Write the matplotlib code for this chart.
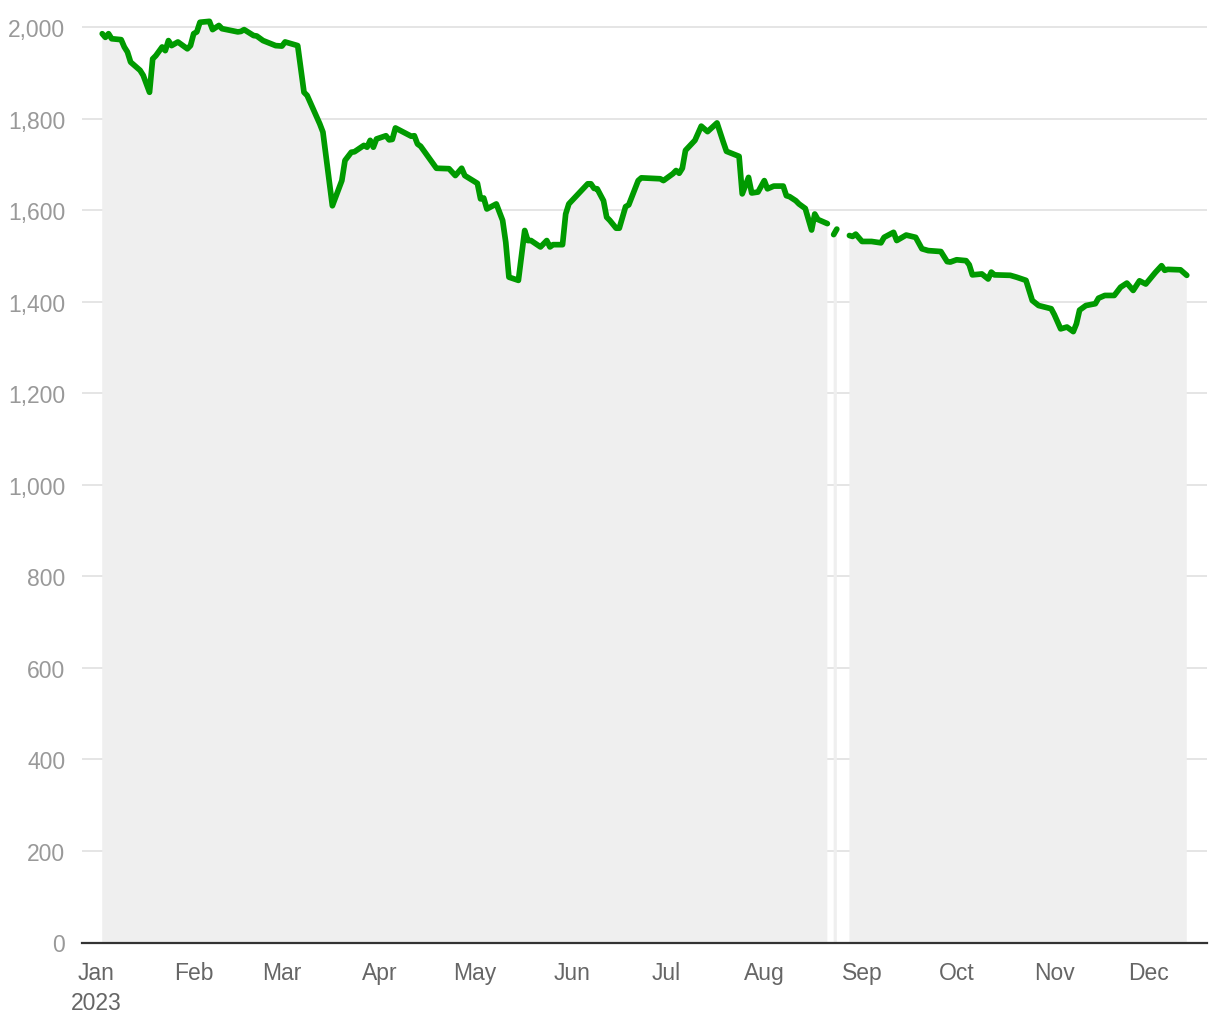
import numpy as np
import matplotlib
matplotlib.use("Agg")
import matplotlib.pyplot as plt
from matplotlib.ticker import FuncFormatter

plt.rcParams['font.family'] = ['Liberation Sans', 'DejaVu Sans']

# day offsets from 2023-01-01 and values; NaN marks missing data
days = [2, 3, 4, 5, 8, 9, 10, 11, 14, 15, 17, 18, 19, 21, 22, 23, 24, 26,
        29, 30, 31, 32, 33, 36, 37, 39, 40, 45, 46, 47, 50, 51, 53, 57, 59, 60,
        64, 66, 67, 71, 72, 75, 78, 79, 81, 82, 85, 86, 87, 88, 89, 92, 93, 94,
        95, 100, 101, 102, 103, 108, 112, 114, 116, 117, 121, 122, 123, 124,
        127, 129, 130, 131, 134, 136, 137, 138, 141, 143, 144, 145, 148, 149,
        150, 153, 156, 157, 158, 159, 161, 162, 163, 165, 166, 168, 169, 172,
        173, 179, 180, 183, 184, 185, 186, 187, 190, 192, 194, 197, 199, 200,
        204, 205, 207, 208, 210, 212, 213, 215, 218, 219, 220, 222, 223, 225,
        227, 228, 229, 232, 233, 234, 235, 237, 239, 240, 241, 243, 246, 249,
        250, 253, 254, 257, 260, 262, 264, 268, 270, 271, 273, 276, 277, 278,
        281, 283, 284, 285, 290, 292, 295, 297, 299, 303, 304, 306, 308, 310,
        311, 312, 314, 317, 318, 320, 323, 325, 327, 329, 331, 333, 336, 338,
        339, 340, 344, 346]
values = [1986, 1978, 1986, 1975, 1973, 1957, 1946, 1924, 1906, 1895, 1858,
          1931, 1938, 1957, 1949, 1971, 1960, 1968, 1953, 1960, 1986, 1990,
          2011, 2013, 1995, 2004, 1997, 1990, 1991, 1995, 1982, 1981, 1971,
          1960, 1959, 1968, 1960, 1858, 1851, 1789, 1771, 1610, 1665, 1709,
          1727, 1728, 1742, 1738, 1753, 1738, 1756, 1763, 1754, 1755, 1780,
          1762, 1763, 1745, 1740, 1692, 1691, 1676, 1692, 1676, 1659, 1625,
          1627, 1603, 1614, 1578, 1530, 1454, 1447, 1556, 1534, 1534, 1520,
          1534, 1520, 1525, 1525, 1592, 1614, 1636, 1658, 1658, 1648, 1647,
          1621, 1585, 1578, 1561, 1561, 1608, 1612, 1665, 1671, 1669, 1665,
          1680, 1687, 1681, 1692, 1731, 1753, 1784, 1772, 1791, 1749, 1729,
          1718, 1636, 1672, 1638, 1640, 1665, 1647, 1653, 1653, 1632, 1630,
          1621, 1614, 1604, 1557, 1592, 1580, 1571, np.nan, 1547, 1559, np.nan,
          1545, 1543, 1548, 1532, 1532, 1529, 1541, 1552, 1534, 1546, 1541,
          1516, 1512, 1510, 1488, 1487, 1492, 1490, 1481, 1459, 1461, 1450,
          1465, 1459, 1458, 1454, 1447, 1403, 1392, 1385, 1372, 1341, 1345,
          1335, 1352, 1382, 1392, 1396, 1408, 1414, 1414, 1432, 1441, 1425,
          1446, 1439, 1464, 1479, 1469, 1471, 1470, 1458]

y_ticks = [0, 200, 400, 600, 800, 1000, 1200, 1400, 1600, 1800, 2000]
month_labels = ['Jan\n2023', 'Feb', 'Mar', 'Apr', 'May', 'Jun', 'Jul', 'Aug',
                'Sep', 'Oct', 'Nov', 'Dec']

start = np.datetime64('2023-01-01')
dates = start + np.array(days).astype('timedelta64[D]')
vals = np.array(values, dtype=float)

fig = plt.figure(figsize=(12.2, 10.2), dpi=100)
ax = fig.add_axes([82 / 1220, 76.5 / 1020, 1125 / 1220, 933.5 / 1020])

# grey area under each stretch of data, green line on top
ax.fill_between(dates, 0, vals, where=~np.isnan(vals), color='#efefef',
                linewidth=0, zorder=1)
ax.plot(dates, vals, color='#009a00', linewidth=4.1, solid_capstyle='round',
        solid_joinstyle='round', zorder=3)

ax.set_ylim(0, 2040)
ax.set_xlim(start - np.timedelta64(106, 'h'), start + np.timedelta64(8458, 'h'))
ax.set_yticks(y_ticks)
ax.yaxis.set_major_formatter(FuncFormatter(lambda v, p: f'{int(v):,}'))
ax.grid(axis='y', color='#e0e0e0', linewidth=1.2, zorder=0)
ax.set_axisbelow(True)

month_ticks = [np.datetime64(f'2023-{m:02d}-01') for m in range(1, 13)]
ax.set_xticks(month_ticks)
ax.set_xticklabels(month_labels, linespacing=1.4)

ax.tick_params(axis='y', length=0, pad=12, labelsize=16.5, labelcolor='#999999')
ax.tick_params(axis='x', length=0, pad=13, labelsize=16.5, labelcolor='#666666')
for s in ['top', 'right', 'left']:
    ax.spines[s].set_visible(False)
ax.spines['bottom'].set_color('#333333')
ax.spines['bottom'].set_linewidth(1.6)
ax.spines['bottom'].set_zorder(4)

fig.savefig('out.png', dpi=100)
